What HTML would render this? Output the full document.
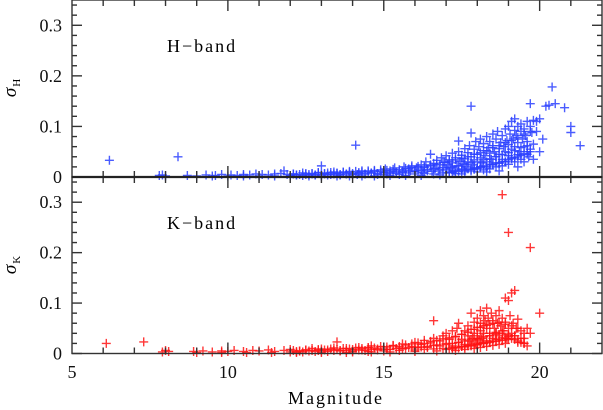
<!DOCTYPE html>
<html><head><meta charset="utf-8"><style>
html,body{margin:0;padding:0;background:#fff;}
svg{display:block;font-family:"Liberation Serif",serif;}
</style></head><body>
<svg id="chart" width="603" height="410" viewBox="0 0 603 410">
<g id="marks"></g>
<g id="axes"></g>
<text x="167" y="52" font-size="18" letter-spacing="2" fill="#000">H−band</text>
<text x="167" y="229" font-size="18" letter-spacing="2" fill="#000">K−band</text>
<text x="336" y="404" font-size="18" letter-spacing="2" text-anchor="middle" fill="#000">Magnitude</text>
<g transform="translate(16,88) rotate(-90)"><text x="0" y="0" font-size="19" font-style="italic" text-anchor="middle">σ<tspan font-size="11" font-style="normal" dy="4" dx="1">H</tspan></text></g>
<g transform="translate(16,265) rotate(-90)"><text x="0" y="0" font-size="19" font-style="italic" text-anchor="middle">σ<tspan font-size="11" font-style="normal" dy="4" dx="1">K</tspan></text></g>
</svg>
<script>
const xTicks=[5,10,15,20];
const yTicks=[0,0.1,0.2,0.3];
const yTickLabels=["0","0.1","0.2","0.3"];
const hMag=[6.2,7.8,7.9,8.0,8.4,8.7,9.3,9.6,9.8,10.1,10.3,10.5,10.7,10.9,11.1,11.3,11.5,11.7,11.8,11.9,12.1,12.2,12.4,12.5,12.7,12.8,12.9,13.0,13.1,13.2,13.3,13.4,13.5,13.6,13.7,13.8,13.9,14.0,14.1,14.15,14.2,14.3,14.4,14.5,14.6,14.7,14.8,14.9,15.0,15.05,15.1,15.2,15.3,15.35,15.4,15.5,15.6,15.65,15.7,15.8,15.85,15.9,16.0,16.05,16.1,16.2,16.25,16.3,16.35,16.4,16.5,16.5,16.55,16.6,16.65,16.7,16.75,16.8,16.85,16.9,16.95,17.0,17.0,17.05,17.1,17.15,17.2,17.2,17.25,17.3,17.35,17.4,17.4,17.45,17.5,17.5,17.55,17.6,17.6,17.65,17.7,17.7,17.75,17.8,17.8,17.8,17.85,17.9,17.9,17.95,18.0,18.0,18.05,18.1,18.1,18.15,18.2,18.2,18.25,18.3,18.3,18.35,18.4,18.4,18.45,18.5,18.5,18.55,18.6,18.6,18.65,18.7,18.7,18.75,18.8,18.8,18.85,18.9,18.9,18.95,19.0,19.0,19.0,19.05,19.1,19.1,19.15,19.2,19.2,19.2,19.25,19.3,19.3,19.35,19.4,19.4,19.45,19.5,19.5,19.55,19.6,19.6,19.65,19.7,19.7,19.75,19.8,19.8,19.9,19.9,20.0,20.0,20.1,20.2,20.3,20.4,20.5,20.8,21.0,21.0,21.3,15.0,15.5,16.0,16.3,16.6,16.9,17.1,17.3,17.6,17.8,18.0,18.2,18.4,18.6,18.8,19.0,19.2,19.4,19.6,18.3,18.7,19.1,19.3,17.5,16.8,16.2,15.7,15.2,14.7,14.3,13.9,13.5,13.0,12.6,12.0,11.5,11.0,10.5,10.0,9.5,9.0,18.1,18.5,18.9,19.3,19.5,19.7,17.9,18.3,18.7];
const hSig=[.033,.003,.004,.002,.04,.003,.004,.003,.005,.004,.003,.005,.004,.006,.005,.004,.006,.007,.012,.005,.006,.004,.008,.005,.007,.004,.009,.022,.006,.008,.005,.01,.007,.004,.009,.006,.011,.007,.063,.005,.009,.012,.006,.01,.008,.013,.005,.011,.009,.016,.006,.012,.01,.018,.007,.014,.011,.02,.008,.016,.012,.022,.01,.018,.014,.024,.009,.019,.03,.015,.045,.022,.011,.027,.017,.033,.012,.024,.038,.019,.029,.014,.042,.024,.034,.018,.047,.028,.012,.038,.022,.071,.05,.031,.016,.043,.026,.056,.036,.02,.048,.03,.062,.14,.087,.04,.024,.055,.034,.07,.045,.018,.06,.038,.075,.028,.052,.066,.042,.08,.03,.058,.047,.07,.035,.085,.062,.05,.04,.075,.09,.056,.045,.068,.082,.035,.06,.095,.05,.072,.1,.064,.042,.085,.055,.11,.075,.115,.092,.06,.082,.1,.068,.05,.09,.105,.075,.06,.095,.082,.11,.07,.04,.1,.145,.088,.065,.112,.09,.11,.115,.05,.075,.14,.142,.178,.145,.137,.1,.088,.062,.004,.005,.006,.007,.006,.008,.009,.007,.01,.012,.01,.014,.016,.02,.022,.025,.03,.035,.045,.018,.028,.038,.044,.006,.004,.003,.003,.003,.002,.002,.002,.002,.002,.002,.002,.002,.002,.002,.002,.002,.002,.02,.025,.03,.02,.03,.05,.015,.01,.012];
const hMagDense=[12.0,12.2,12.4,12.6,12.8,13.0,13.2,13.4,13.6,13.8,14.0,14.2,14.4,14.6,14.8,15.0,15.2,15.4,15.6,15.8,16.0,16.2,16.4,16.6,16.8,17.0,17.2,17.4,17.6,17.8,18.0,18.2,18.4,18.6,18.8,19.0,19.2,19.4,19.6,
12.1,12.3,12.5,12.7,12.9,13.1,13.3,13.5,13.7,13.9,14.1,14.3,14.5,14.7,14.9,15.1,15.3,15.5,15.7,15.9,16.1,16.3,16.5,16.7,16.9,17.1,17.3,17.5,17.7,17.9,18.1,18.3,18.5,18.7,18.9,19.1,19.3,19.5,19.7,
17.0,17.1,17.2,17.3,17.4,17.5,17.6,17.7,17.8,17.9,18.0,18.1,18.2,18.3,18.4,18.5,18.6,18.7,18.8,18.9,19.0,19.1,19.2,19.3,19.4,19.5,19.6,19.7,19.8];
const hSigDense=[.003,.004,.003,.005,.004,.005,.004,.006,.005,.006,.005,.007,.006,.008,.007,.009,.008,.01,.009,.012,.011,.013,.012,.016,.015,.018,.02,.022,.025,.028,.03,.034,.036,.04,.044,.048,.052,.058,.062,
.006,.005,.007,.006,.008,.007,.009,.008,.01,.009,.011,.01,.012,.011,.014,.013,.015,.014,.017,.019,.021,.02,.024,.026,.029,.031,.034,.037,.04,.045,.048,.052,.058,.062,.068,.072,.078,.085,.09,
.008,.01,.009,.012,.011,.014,.013,.016,.015,.018,.017,.02,.022,.021,.025,.024,.028,.027,.031,.03,.034,.036,.038,.04,.043,.046,.05,.055,.035];
const kMag=[6.1,7.3,7.9,8.0,8.1,8.9,9.2,9.5,9.8,10.0,10.2,10.5,10.8,11.0,11.3,11.5,11.8,12.0,12.3,12.5,12.7,12.9,13.0,13.2,13.4,13.5,13.6,13.8,14.0,14.2,14.3,14.5,14.6,14.8,15.0,15.1,15.3,15.5,15.6,15.7,15.9,16.0,16.1,16.2,16.3,16.4,16.5,16.6,16.6,16.7,16.8,16.9,17.0,17.0,17.1,17.2,17.2,17.3,17.35,17.4,17.4,17.5,17.5,17.6,17.6,17.7,17.7,17.75,17.8,17.8,17.85,17.9,17.9,17.95,18.0,18.0,18.0,18.05,18.1,18.1,18.1,18.15,18.2,18.2,18.2,18.25,18.3,18.3,18.3,18.35,18.4,18.4,18.45,18.5,18.5,18.55,18.6,18.6,18.65,18.7,18.7,18.75,18.8,18.8,18.85,18.9,18.9,18.95,19.0,19.0,19.0,19.05,19.1,19.1,19.15,19.2,19.2,19.25,19.3,19.4,19.5,19.6,19.7,19.7,20.0,19.3,19.5,14.0,14.5,15.0,15.5,16.0,16.3,16.6,16.9,17.2,17.5,17.8,18.0,18.2,18.4,18.6,18.8,19.0,17.6,17.9,18.1,18.3,18.5,18.7,18.9,17.3,16.7,16.0,15.2,14.6,13.8,13.0,12.2,11.4,10.6,9.8,9.0,18.0,18.4,18.6,18.8,18.2,17.7];
const kSig=[.02,.023,.003,.006,.004,.004,.005,.003,.005,.004,.006,.004,.006,.005,.007,.004,.006,.008,.005,.007,.01,.006,.009,.007,.011,.023,.006,.01,.008,.012,.007,.011,.015,.009,.013,.008,.016,.011,.019,.01,.014,.022,.012,.018,.026,.014,.021,.065,.03,.017,.025,.035,.02,.04,.028,.015,.045,.033,.05,.022,.06,.038,.028,.045,.018,.055,.035,.025,.08,.048,.03,.062,.04,.02,.07,.052,.035,.027,.085,.06,.045,.03,.075,.055,.04,.065,.09,.05,.025,.07,.058,.04,.08,.065,.03,.05,.075,.042,.06,.085,.035,.055,.315,.07,.045,.11,.062,.03,.24,.105,.05,.075,.12,.04,.06,.125,.035,.05,.068,.045,.03,.05,.21,.04,.08,.022,.02,.003,.004,.005,.006,.007,.008,.009,.01,.012,.014,.016,.018,.02,.022,.024,.026,.028,.008,.01,.012,.014,.016,.018,.02,.006,.005,.004,.003,.003,.002,.002,.002,.002,.002,.002,.002,.03,.035,.04,.045,.02,.015];
const kMagDense=[12.0,12.2,12.4,12.6,12.8,13.0,13.2,13.4,13.6,13.8,14.0,14.2,14.4,14.6,14.8,15.0,15.2,15.4,15.6,15.8,16.0,16.2,16.4,16.6,16.8,17.0,17.2,17.4,17.6,17.8,18.0,18.2,18.4,18.6,18.8,19.0,19.2,19.4,
12.1,12.3,12.5,12.7,12.9,13.1,13.3,13.5,13.7,13.9,14.1,14.3,14.5,14.7,14.9,15.1,15.3,15.5,15.7,15.9,16.1,16.3,16.5,16.7,16.9,17.1,17.3,17.5,17.7,17.9,18.1,18.3,18.5,18.7,18.9,19.1,19.3,19.5,
17.0,17.1,17.2,17.3,17.4,17.5,17.6,17.7,17.8,17.9,18.0,18.1,18.2,18.3,18.4,18.5,18.6,18.7,18.8,18.9,19.0,19.1,19.2,19.3,19.4,19.5,19.6];
const kSigDense=[.003,.004,.003,.005,.004,.005,.004,.006,.005,.006,.005,.007,.006,.008,.007,.009,.008,.01,.009,.012,.011,.013,.012,.016,.015,.018,.02,.022,.025,.028,.03,.033,.035,.038,.04,.037,.035,.03,
.006,.005,.007,.006,.008,.007,.009,.008,.01,.009,.011,.01,.012,.011,.014,.013,.015,.014,.017,.019,.021,.02,.024,.026,.029,.031,.034,.038,.042,.048,.052,.056,.06,.062,.058,.055,.05,.04,
.008,.01,.009,.012,.011,.014,.013,.016,.015,.018,.017,.02,.022,.021,.025,.024,.028,.027,.031,.03,.034,.03,.028,.025,.022,.02,.015];

const NS='http://www.w3.org/2000/svg';
const X0=72,X1=602,XMIN=5,XMAX=22;
const sx=v=>X0+(v-XMIN)/(XMAX-XMIN)*(X1-X0);
const panels=[{top:0,bottom:177,mag:hMag.concat(hMagDense),sig:hSig.concat(hSigDense),color:'#2a40ff',name:'h'},{top:177,bottom:353.5,mag:kMag.concat(kMagDense),sig:kSig.concat(kSigDense),color:'#ff1414',name:'k'}];
const marks=document.getElementById('marks');
const axes=document.getElementById('axes');
function mk(tag,attrs,parent){const e=document.createElementNS(NS,tag);for(const k in attrs)e.setAttribute(k,attrs[k]);parent.appendChild(e);return e;}
panels.forEach(p=>{
  const sy=v=>p.bottom-v/0.35*(p.bottom-p.top);
  const g=mk('g',{},marks);
  
  
  for(let i=0;i<p.mag.length;i++){
    const x=sx(p.mag[i]),y=sy(p.sig[i]);
    const pt=mk('path',{d:`M${x-4.5},${y}H${x+4.5}M${x},${y-4.5}V${y+4.5}`,stroke:p.color,'stroke-width':1.4,'stroke-opacity':0.85,fill:'none'},g);
    
    
  }
  const ag=mk('g',{stroke:'#333','stroke-width':1.4},axes);
  
  
  mk('rect',{x:X0,y:p.top,width:X1-X0,height:p.bottom-p.top,fill:'none'},ag);
  for(let v=0;v<=0.35001;v+=0.02){
    const y=sy(v);const major=Math.abs(v*10-Math.round(v*10))<1e-6;const L=major?10:5;
    mk('line',{x1:X0,y1:y,x2:X0+L,y2:y},ag);
    mk('line',{x1:X1,y1:y,x2:X1-L,y2:y},ag);
  }
  for(let v=XMIN+1;v<XMAX;v++){
    const x=sx(v);const L=(v%5===0)?11:6;
    mk('line',{x1:x,y1:p.top,x2:x,y2:p.top+L},ag);
    mk('line',{x1:x,y1:p.bottom,x2:x,y2:p.bottom-L},ag);
  }
  yTicks.forEach((v,i)=>{
    const t=mk('text',{x:62,y:sy(v)+6,'font-size':18,'text-anchor':'end',fill:'#111',stroke:'none'},axes);
    t.textContent=yTickLabels[i];
    
    
  });
});
mk('line',{x1:X0,y1:177,x2:X1,y2:177,stroke:'#222','stroke-width':2.2},axes);
xTicks.forEach(v=>{
  const t=mk('text',{x:sx(v),y:378,'font-size':18,'text-anchor':'middle',fill:'#111'},axes);
  t.textContent=String(v);
  
  
});
</script>
</body></html>
